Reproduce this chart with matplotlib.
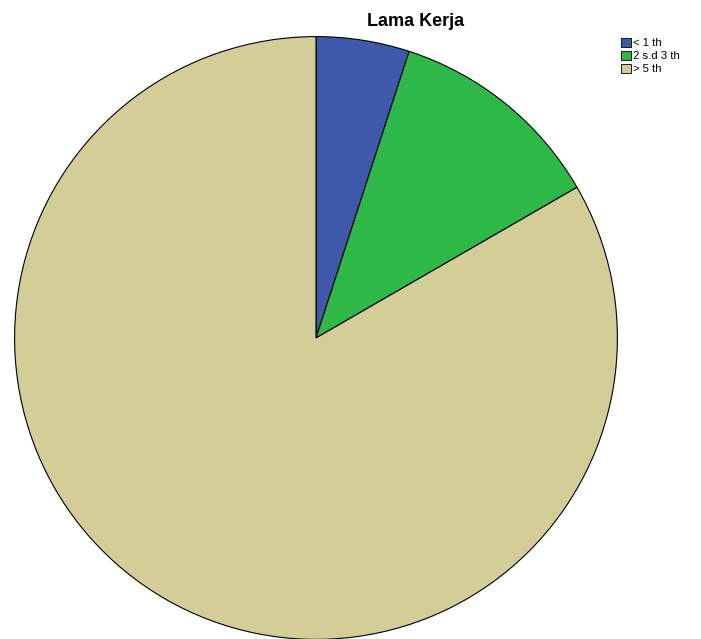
import matplotlib.pyplot as plt
from matplotlib.patches import Patch

# Lama Kerja frequencies
labels = ["< 1 th", "2 s.d 3 th", "> 5 th"]
counts = [3, 7, 50]
colors = ["#3E58AC", "#2EB848", "#D3CE97"]

W, H = 701, 639
fig = plt.figure(figsize=(W / 100, H / 100), dpi=100)
fig.patch.set_facecolor("white")

cx, cy, r = 316, 338, 302
ax = fig.add_axes([(cx - r) / W, (H - cy - r) / H, 2 * r / W, 2 * r / H])
ax.pie(counts, colors=colors, startangle=90, counterclock=False, radius=1,
       wedgeprops=dict(edgecolor="black", linewidth=0.8))
ax.set_xlim(-1.002, 1.002)
ax.set_ylim(-1.002, 1.002)
ax.set_aspect("equal")
ax.axis("off")

fig.text(416 / W, 1 - 21 / H, "Lama Kerja", ha="center", va="center",
         fontsize=13, fontweight="bold", family="Liberation Sans")

handles = [Patch(facecolor=c, edgecolor="black", linewidth=0.6) for c in colors]
fig.legend(handles, labels, loc="upper left", bbox_to_anchor=(621 / W, 1 - 38 / H),
           frameon=False, prop={"family": "Liberation Sans", "size": 8.2},
           handlelength=0.85, handleheight=0.85, handletextpad=0.2,
           labelspacing=0.22, borderaxespad=0, borderpad=0)

fig.savefig("out.png", dpi=100)
